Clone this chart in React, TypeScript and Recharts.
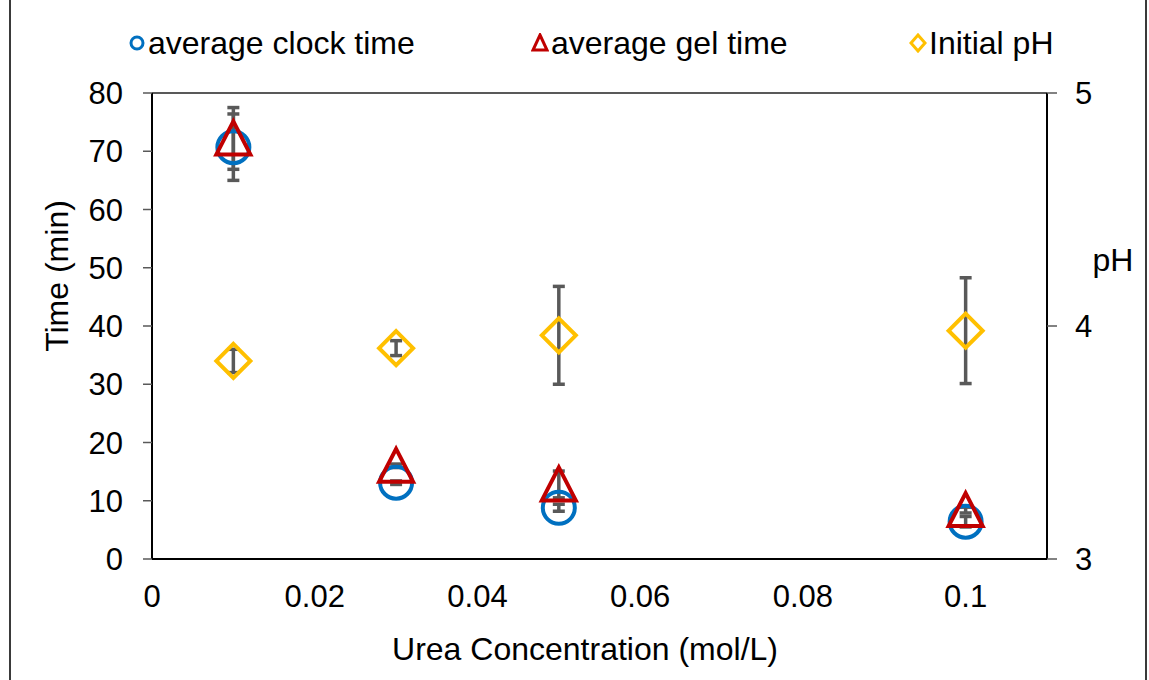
import React from 'react';
import {
  ScatterChart,
  Scatter,
  XAxis,
  YAxis,
  ErrorBar,
  ReferenceLine,
  Label,
} from 'recharts';

const ureaConc = [0.01, 0.03, 0.05, 0.1];
const clockTime = [70.7, 13.1, 8.8, 6.4];
const clockErr = [5.7, 0.3, 0.6, 0.9];
const gelTime = [72.2, 16.0, 12.8, 8.4];
const gelErr = [5.3, 0.3, 2.3, 0.5];
const initialPH = [3.85, 3.905, 3.96, 3.98];
const pHErr = [0.05, 0.032, 0.21, 0.227];

const xTicks = [0, 0.02, 0.04, 0.06, 0.08, 0.1];
const timeTicks = [0, 10, 20, 30, 40, 50, 60, 70, 80];
const pHTicks = [3, 4, 5];

const clockData = ureaConc.map((x, i) => ({ x, y: clockTime[i], err: clockErr[i] }));
const gelData = ureaConc.map((x, i) => ({ x, y: gelTime[i], err: gelErr[i] }));
const pHData = ureaConc.map((x, i) => ({ x, y: initialPH[i], err: pHErr[i] }));

const BLUE = '#0070C0';
const RED = '#C00000';
const GOLD = '#FFC000';
const GRAY = '#595959';
const FONT = '"Liberation Sans", Arial, sans-serif';
const FS = 31;
const TITLE_FS = 32;

const CircleShape = (p: any) => (
  <circle cx={p.cx} cy={p.cy} r={16} fill="none" stroke={BLUE} strokeWidth={4} />
);

const TriangleShape = (p: any) => (
  <polygon
    points={`${p.cx},${p.cy - 17} ${p.cx + 17},${p.cy + 16} ${p.cx - 17},${p.cy + 16}`}
    fill="none"
    stroke={RED}
    strokeWidth={4}
  />
);

const DiamondShape = (p: any) => (
  <polygon
    points={`${p.cx},${p.cy - 17} ${p.cx + 17},${p.cy} ${p.cx},${p.cy + 17} ${p.cx - 17},${p.cy}`}
    fill="none"
    stroke={GOLD}
    strokeWidth={4}
  />
);

function LegendItem({ left, icon, text }: { left: number; icon: React.ReactNode; text: string }) {
  return (
    <div style={{ position: 'absolute', left, top: 25, display: 'flex', alignItems: 'center' }}>
      <svg width={18} height={20} style={{ marginRight: 2 }}>
        {icon}
      </svg>
      <span style={{ fontSize: TITLE_FS, lineHeight: '36px', color: '#000' }}>{text}</span>
    </div>
  );
}

export default function App() {
  return (
    <div style={{ position: 'absolute', left: 0, top: 0, width: 1149, height: 680, fontFamily: FONT, background: '#fff', overflow: 'hidden' }}>
      <div style={{ position: 'absolute', left: 9, top: -2, width: 1134, height: 690, border: '2px solid #3a3a3a' }} />

      <LegendItem
        left={128}
        icon={<circle cx={9} cy={10} r={6} fill="none" stroke={BLUE} strokeWidth={3} />}
        text="average clock time"
      />
      <LegendItem
        left={531}
        icon={<polygon points="9,2 16,17 2,17" fill="none" stroke={RED} strokeWidth={3} />}
        text="average gel time"
      />
      <LegendItem
        left={909}
        icon={<polygon points="9,2 16,10 9,18 2,10" fill="none" stroke={GOLD} strokeWidth={3} />}
        text="Initial pH"
      />

      <ScatterChart
        width={1149}
        height={680}
        margin={{ top: 93, right: 0, bottom: 0, left: 0 }}
        style={{ position: 'absolute', left: 0, top: 0 }}
      >
        <XAxis
          type="number"
          dataKey="x"
          domain={[0, 0.11]}
          ticks={xTicks}
          height={121}
          tickLine={false}
          tickSize={0}
          tickMargin={26}
          axisLine={{ stroke: '#000', strokeWidth: 2 }}
          tick={{ fill: '#000', fontSize: FS, fontFamily: FONT }}
        >
          <Label
            content={(props: any) => {
              const vb = props.viewBox;
              return (
                <text x={vb.x + 433} y={vb.y + 101} textAnchor="middle" fontSize={TITLE_FS} fontFamily={FONT} fill="#000">
                  Urea Concentration (mol/L)
                </text>
              );
            }}
          />
        </XAxis>
        <YAxis
          yAxisId="left"
          type="number"
          dataKey="y"
          domain={[0, 80]}
          ticks={timeTicks}
          width={152}
          tickSize={9}
          tickMargin={20}
          tickLine={{ stroke: GRAY, strokeWidth: 1.5 }}
          axisLine={{ stroke: '#000', strokeWidth: 2 }}
          tick={{ fill: '#000', fontSize: FS, fontFamily: FONT }}
        >
          <Label
            content={(props: any) => {
              const vb = props.viewBox;
              const cx = vb.x + 57;
              const cy = vb.y + 183;
              return (
                <text
                  x={cx}
                  y={cy}
                  transform={`rotate(-90 ${cx} ${cy})`}
                  textAnchor="middle"
                  dominantBaseline="central"
                  fontSize={TITLE_FS}
                  fontFamily={FONT}
                  fill="#000"
                >
                  Time (min)
                </text>
              );
            }}
          />
        </YAxis>
        <YAxis
          yAxisId="right"
          orientation="right"
          type="number"
          dataKey="y"
          domain={[3, 5]}
          ticks={pHTicks}
          width={102}
          tickSize={10}
          tickMargin={18}
          tickLine={{ stroke: GRAY, strokeWidth: 1.5 }}
          axisLine={{ stroke: '#000', strokeWidth: 2 }}
          tick={{ fill: '#000', fontSize: FS, fontFamily: FONT }}
        >
          <Label
            content={(props: any) => {
              const vb = props.viewBox;
              return (
                <text
                  x={vb.x + 66}
                  y={vb.y + 167}
                  textAnchor="middle"
                  dominantBaseline="central"
                  fontSize={TITLE_FS}
                  fontFamily={FONT}
                  fill="#000"
                >
                  pH
                </text>
              );
            }}
          />
        </YAxis>
        <ReferenceLine yAxisId="left" y={80} stroke={GRAY} strokeWidth={2} />

        <Scatter name="average clock time" yAxisId="left" data={clockData} shape={CircleShape} isAnimationActive={false}>
          <ErrorBar dataKey="err" direction="y" width={6} stroke={GRAY} strokeWidth={3.5} />
        </Scatter>
        <Scatter name="average gel time" yAxisId="left" data={gelData} shape={TriangleShape} isAnimationActive={false}>
          <ErrorBar dataKey="err" direction="y" width={6} stroke={GRAY} strokeWidth={3.5} />
        </Scatter>
        <Scatter name="Initial pH" yAxisId="right" data={pHData} shape={DiamondShape} isAnimationActive={false}>
          <ErrorBar dataKey="err" direction="y" width={6} stroke={GRAY} strokeWidth={3.5} />
        </Scatter>
      </ScatterChart>
    </div>
  );
}
